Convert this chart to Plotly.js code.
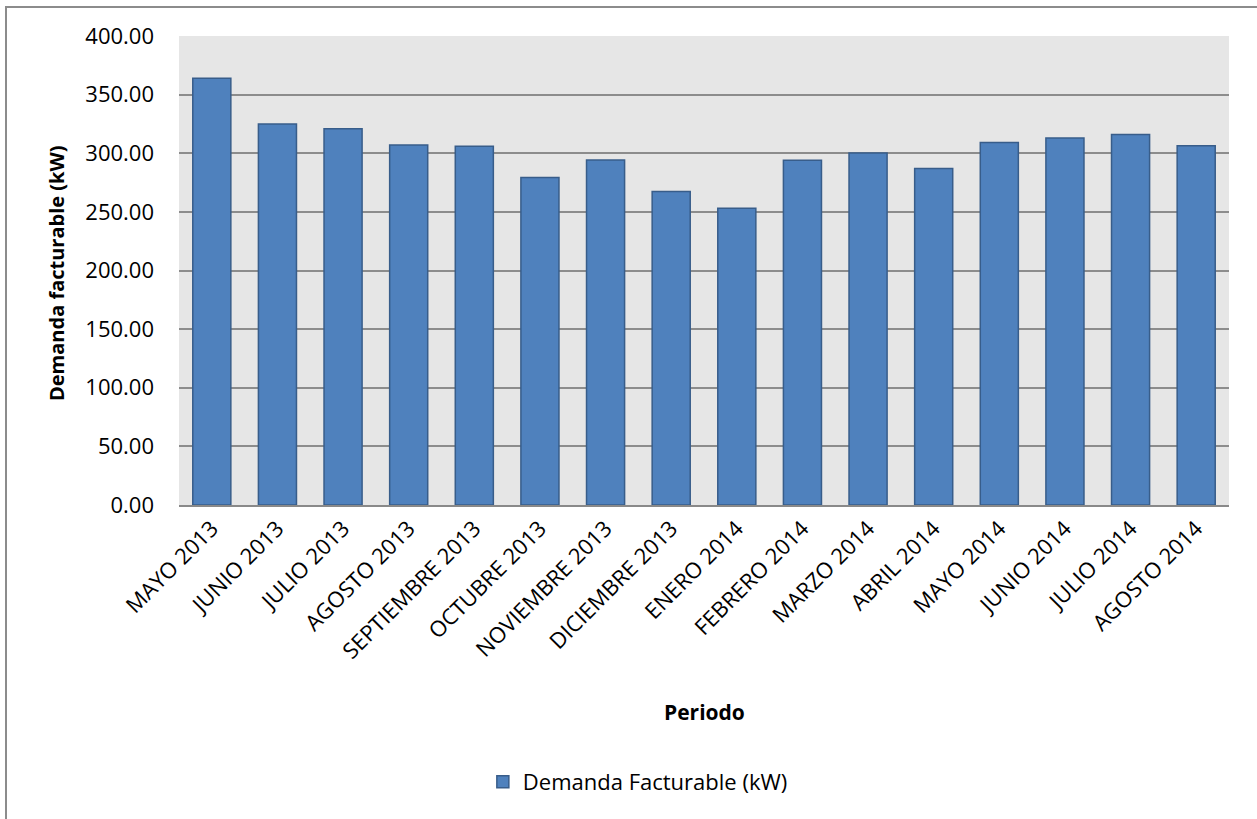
<!DOCTYPE html>
<html>
<head>
<meta charset="utf-8">
<script src="https://cdn.plot.ly/plotly-3.0.1.min.js"></script>
<style>
html,body{margin:0;padding:0;background:#fff;}
#frame{position:absolute;left:5px;top:6px;width:1260px;height:820px;border-left:2px solid #8c8c8c;border-top:2px solid #8c8c8c;pointer-events:none;z-index:10;}
#chart{width:1257px;height:819px;}
</style>
</head>
<body>
<div id="frame"></div>
<div id="chart"></div>
<script>
const periodos = ["MAYO 2013","JUNIO 2013","JULIO 2013","AGOSTO 2013","SEPTIEMBRE 2013","OCTUBRE 2013","NOVIEMBRE 2013","DICIEMBRE 2013","ENERO 2014","FEBRERO 2014","MARZO 2014","ABRIL 2014","MAYO 2014","JUNIO 2014","JULIO 2014","AGOSTO 2014"];
const demanda = [364.0,325.0,321.0,307.0,306.0,279.3,294.3,267.3,253.0,294.1,300.2,287.0,309.1,313.1,316.0,306.3];
const serieNombre = "Demanda Facturable (kW)";
const yTicks = [0,50,100,150,200,250,300,350,400];
const tituloX = "Periodo";
const tituloY = "Demanda facturable (kW)";

const font = "'Open Sans', 'Noto Sans', sans-serif";
const trace = {
  type: 'bar',
  x: periodos,
  y: demanda,
  name: serieNombre,
  marker: {color: '#4f81bd', line: {color: '#385d8a', width: 1.5}},
  hoverinfo: 'x+y'
};
const layout = {
  width: 1257, height: 819,
  margin: {l: 179, r: 28, t: 36, b: 314},
  paper_bgcolor: '#ffffff',
  plot_bgcolor: '#e6e6e6',
  bargap: 0.42,
  showlegend: true,
  legend: {orientation: 'h', x: 0.437, xanchor: 'center', y: -0.5906, yanchor: 'middle',
           font: {family: font, size: 22, color: '#000'}, itemwidth: 30},
  xaxis: {
    type: 'category',
    tickangle: -45,
    tickfont: {family: font, size: 22, color: '#000'},
    showline: true, linecolor: '#898989', linewidth: 2,
    ticks: '', showgrid: false,
    automargin: false
  },
  yaxis: {
    range: [0, 400],
    tickvals: yTicks,
    tickformat: '.2f',
    tickfont: {family: font, size: 22, color: '#000'},
    showgrid: true, gridcolor: '#8c8c8c', gridwidth: 2,
    zeroline: false,
    ticks: '', ticklabelstandoff: 24,
    automargin: false
  },
  annotations: [
    {text: tituloX, xref: 'paper', yref: 'paper', x: 0.5, y: -0.441, xanchor: 'center', yanchor: 'middle',
     showarrow: false, font: {family: font, size: 21, color: '#000', weight: 'bold'}},
    {text: tituloY, xref: 'paper', yref: 'paper', x: (56 - 179) / 1050, y: (505 - 273) / 469,
     xanchor: 'center', yanchor: 'middle', textangle: -90,
     showarrow: false, font: {family: font, size: 20, color: '#000', weight: 'bold'}}
  ]
};
Plotly.newPlot('chart', [trace], layout, {displayModeBar: false, staticPlot: true});
</script>
</body>
</html>
